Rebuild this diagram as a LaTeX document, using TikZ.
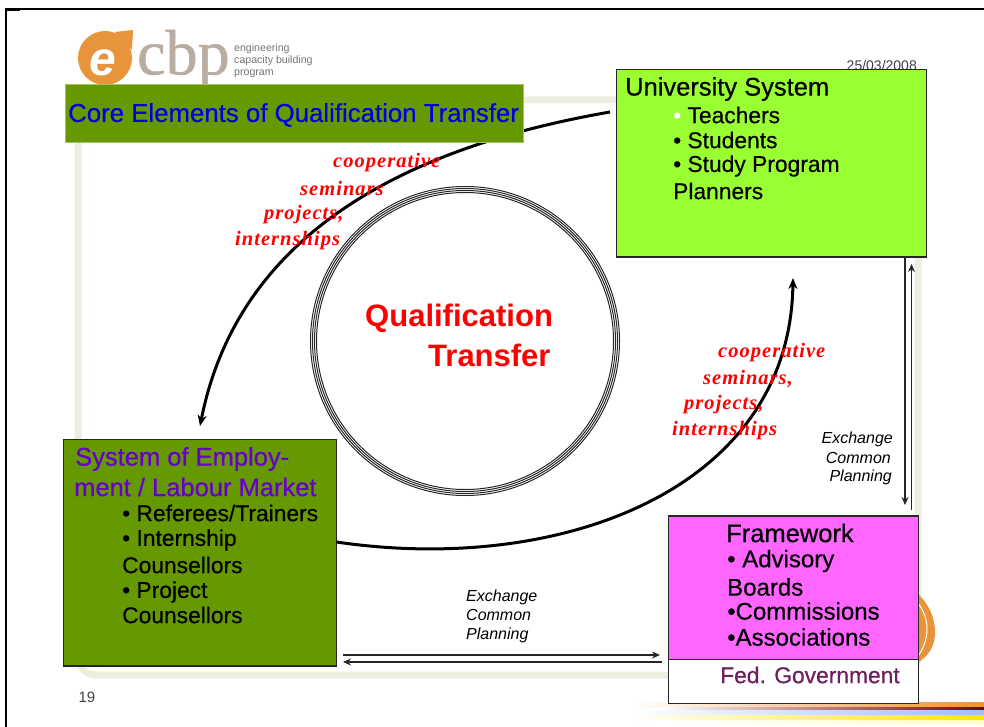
\documentclass[tikz,border=0pt]{standalone}
\usepackage{fontspec}
\setmainfont{Liberation Sans}
\newfontfamily\medfont[FakeBold=0.5]{Liberation Sans}
\newfontfamily\serifred[LetterSpace=5]{Liberation Serif}
\newfontfamily\serifplain[FakeBold=0.8]{Liberation Serif}
\usetikzlibrary{arrows.meta}
\definecolor{framebeige}{HTML}{EDEDE0}
\definecolor{boxolive}{HTML}{669900}
\definecolor{boxlime}{HTML}{99FF33}
\definecolor{boxpink}{HTML}{FF66FF}
\definecolor{logoorange}{HTML}{E8943A}
\definecolor{logogrey}{HTML}{B8ADA0}
\definecolor{fedtext}{HTML}{6E1F5F}
\definecolor{emptext}{HTML}{6600CC}
\tikzset{
    boxed/.style={draw=black!85,line width=1.5pt,anchor=north west,inner sep=0pt,outer sep=0pt},
    line/.style={anchor=west,inner sep=0pt,font=\medfont\fontsize{22.8}{22.8}\selectfont},
    frameline/.style={anchor=west,inner sep=0pt,font=\medfont\fontsize{24}{24}\selectfont},
    head/.style={anchor=west,inner sep=0pt,font=\medfont\fontsize{25.5}{25.5}\selectfont},
    redtext/.style={anchor=west,inner sep=0pt,text=red,font=\serifred\fontsize{20.5}{20.5}\selectfont\bfseries\itshape},
    smalltext/.style={inner sep=0pt,font=\fontsize{16}{16}\selectfont\itshape},
    swirl/.style={line width=3pt,-{Stealth[length=11pt,width=9pt]}},
    exch/.style={line width=1.2pt,black!85,-{Stealth[length=8pt,width=7pt]}},
    rule/.style={line width=2pt,black}
}
\begin{document}
\begin{tikzpicture}[x=1pt,y=-1pt]
    \useasboundingbox (0,0) rectangle (984,727);
    % page edge
    \draw[rule] (6,727) -- (6,9.5) -- (984,9.5);
    \draw[line width=2pt] (6,10.5) -- (20,10.5);
    % slide decoration
    \draw[framebeige,line width=7pt,rounded corners=18pt] (78,100) rectangle (918,675);
    \fill[logoorange] (905,585) .. controls (925,595) and (936,615) .. (935,635) .. controls (934,650) and (925,662) .. (905,668) -- cycle;
    \draw[white,line width=1pt] (915,600) .. controls (930,615) and (932,640) .. (915,660);
    \shade[left color=white,right color=logoorange] (630,702) rectangle (984,707);
    \shade[left color=white,right color=red!50!black] (660,707) rectangle (984,710);
    \shade[left color=white,right color=cyan!40!blue!40] (630,710) rectangle (984,715);
    \shade[left color=white,right color=yellow!80!orange] (630,715) rectangle (984,720);
    \shade[left color=white,right color=yellow!25] (650,720) rectangle (984,723);
    % logo
    \fill[logoorange] (105,58) circle (27);
    \fill[logoorange] (115,32) -- (133,30) -- (132,50) -- cycle;
    \node[inner sep=0pt,text=white] (logoe) at (103,63) {\fontsize{48}{48}\selectfont\bfseries\itshape e};
    \node[anchor=west,inner sep=0pt,text=logogrey] (logocbp) at (137,59) {\serifplain\fontsize{64}{64}\selectfont cbp};
    \node[anchor=west,inner sep=0pt,text=black!55,align=left] (logotext) at (234,61) {\fontsize{10.6}{11.5}\selectfont engineering\\\fontsize{10.6}{11.5}\selectfont capacity building\\\fontsize{10.6}{11.5}\selectfont program};
    \node[anchor=east,inner sep=0pt,text=black!75] (datestamp) at (917,65) {\fontsize{14}{14}\selectfont 25/03/2008};
    \node[inner sep=0pt,text=black!75] (pagenum) at (87,697) {\fontsize{15}{15}\selectfont 19};
    % centre rings
    \foreach \r in {148.5,150.5,152.5,154.5}
        \draw[black!85,line width=1pt] (465,341) circle (\r);
    \node[anchor=west,inner sep=0pt,text=red] (qualone) at (365,318) {\fontsize{31}{31}\selectfont\bfseries Qualification};
    \node[anchor=west,inner sep=0pt,text=red] (qualtwo) at (428,355) {\fontsize{31}{31}\selectfont\bfseries Transfer};
    % boxes
    \node[boxed,fill=boxlime,minimum width=310pt,minimum height=187.5pt] (univ) at (616.5,69.5) {};
    \node[boxed,fill=boxolive,minimum width=273pt,minimum height=226.5pt] (emp) at (63.5,439.5) {};
    \node[boxed,fill=boxpink,minimum width=250pt,minimum height=143.5pt] (frame) at (668.5,516) {};
    \node[boxed,fill=white,minimum width=250pt,minimum height=44pt] (gov) at (668.5,659.5) {};
    % arcs
    \coordinate (arcastart) at (610,112);
    \coordinate (arcaend) at (200,426);
    \coordinate (arcbend) at (793,278);
    \draw[swirl] (arcastart) .. controls (420,145) and (240,225) .. (arcaend);
    \draw[swirl] (emp.east |- 0,542) .. controls (560,575) and (790,490) .. (arcbend);
    \node[draw=boxolive!60,fill=boxolive,line width=0.5pt,anchor=north west,inner sep=0pt,minimum width=458pt,minimum height=58pt] (title) at (65,84) {};
    \node[anchor=west,inner sep=0pt,text=blue!90!black] (titletext) at (68,115) {\medfont\fontsize{25.8}{25.8}\selectfont Core Elements of Qualification Transfer};
    % exchange arrows
    \draw[exch] (905,258) -- (905,505);
    \draw[exch] (911.5,510) -- (911.5,264);
    \draw[exch] (343,655) -- (660,655);
    \draw[exch] (662,662) -- (343,662);
    \node[smalltext,anchor=east] (exa) at (893,439) {Exchange};
    \node[smalltext,anchor=east] (exb) at (891,458) {Common};
    \node[smalltext,anchor=east] (exc) at (892,477) {Planning};
    \node[smalltext,anchor=west] (exd) at (466,597) {Exchange};
    \node[smalltext,anchor=west] (exe) at (466,615) {Common};
    \node[smalltext,anchor=west] (exf) at (466,635) {Planning};
    % red labels
    \node[redtext] (rca) at (333,163) {cooperative};
    \node[redtext] (rcb) at (300,188) {seminars};
    \node[redtext] (rcc) at (264,215) {projects,};
    \node[redtext] (rcd) at (235,241) {internships};
    \node[redtext] (rda) at (718,353) {cooperative};
    \node[redtext] (rdb) at (703,379) {seminars,};
    \node[redtext] (rdc) at (684,405) {projects,};
    \node[redtext] (rdd) at (672,431) {internships};
    % box texts
    \node[head] (univhead) at (625,89) {University System};
    \node[line] (uta) at (673,115) {\textcolor{white}{•} Teachers};
    \node[line] (utb) at (673,140) {• Students};
    \node[line] (utc) at (673,166) {• Study Program};
    \node[line] (utd) at (673,191) {Planners};
    \node[head,text=emptext] (emphead) at (75,459) {System of Employ-};
    \node[head,text=emptext] (empheadb) at (74,487) {ment / Labour Market};
    \node[line] (ema) at (122,513) {• Referees/Trainers};
    \node[line] (emb) at (122,540) {• Internship};
    \node[line] (emc) at (122,565) {Counsellors};
    \node[line] (emd) at (122,592) {• Project};
    \node[line] (eme) at (122,615) {Counsellors};
    \node[head] (framehead) at (726,533) {Framework};
    \node[frameline] (fra) at (727,561) {• Advisory};
    \node[frameline] (frb) at (727,587) {Boards};
    \node[frameline] (frc) at (727,611) {•Commissions};
    \node[frameline] (frd) at (727,637) {•Associations};
    \node[line,text=fedtext] (govtext) at (720,675) {Fed. Government};
\end{tikzpicture}
\end{document}
